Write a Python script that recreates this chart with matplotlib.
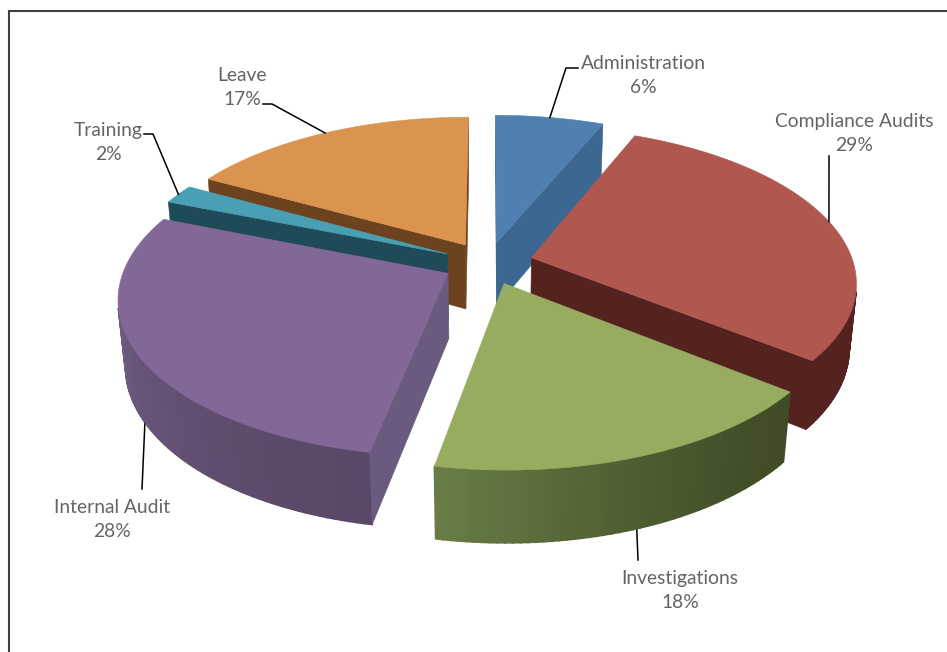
import numpy as np
import matplotlib
matplotlib.use('Agg')
import matplotlib.pyplot as plt
from matplotlib.colors import to_rgb

# time split per activity, percent, clockwise from 12 o'clock
labels = ['Administration', 'Compliance Audits', 'Investigations', 'Internal Audit', 'Training', 'Leave']
values = [6, 29, 18, 28, 2, 17]

top_colors = ['#4F80AF', '#B05850', '#98AC60', '#826897', '#4A9FB5', '#DB944F']
side_colors = ['#3C6791', '#55231F', '#47552B', '#6B5A80', '#1F4B58', '#6C431E']
# outer wall shade at the start and at the end of each arc
wall_start = ['#3C6791', '#55231F', '#3F4C25', '#5A4868', '#1F4B58', '#6C431E']
wall_end = ['#3C6791', '#55231F', '#687D46', '#806B98', '#1F4B58', '#6C431E']

# where each label goes: text centre, then the leader's start and optional elbow
text_pos = [(643, 75.5), (854, 133.5), (680, 590.5), (112, 519.5), (108, 142.5), (242, 87.5)]
leader_pts = [[(578, 68), (566, 68)], [(829, 156)], [(638, 560)], [(142, 489)],
              [(144, 134), (153, 134)], [(263, 104), (272, 104)]]

# projection of the disc onto the page
CX, CY = 488, 263
RX, RY = 322, 152
PERSP = 0.15
DEPTH = 66
BOTTOM_SHRINK = 0.02
EXPLODE = 0.14
# the right half of the disc leans towards the viewer a little
LEAN = np.radians(3)


def project(x, y, z=0.0):
    w = 1 + PERSP * y + BOTTOM_SHRINK * z
    return CX + RX * x / w, CY + (-RY * y + DEPTH * z) / w


def lean(a):
    return a + LEAN * np.maximum(np.sin(a), 0)


def area(pts):
    p = np.array(pts)
    q = np.roll(p, -1, axis=0)
    return np.sum(p[:, 0] * q[:, 1] - q[:, 0] * p[:, 1])


def face(ax, pts, color, lw=0.4):
    # faces turned away from the viewer are skipped
    if area(pts) < 0:
        ax.fill(*zip(*pts), color=color, lw=lw, ec=color, zorder=2)


fig = plt.figure(figsize=(9.47, 6.52), dpi=100)
ax = fig.add_axes([0, 0, 1, 1])
ax.set_xlim(0, 947)
ax.set_ylim(652, 0)
ax.axis('off')

ax.plot([9, 9, 947], [652, 11, 11], color='#404040', lw=1.5, solid_joinstyle='miter')

fracs = np.array(values) / sum(values)
edges = lean(np.concatenate([[0], np.cumsum(fracs)]) * 2 * np.pi)
mids = (edges[:-1] + edges[1:]) / 2

# back slices first so the nearer ones paint over them
for i in np.argsort(-np.cos(mids)):
    ox, oy = EXPLODE * np.sin(mids[i]), EXPLODE * np.cos(mids[i])
    angs = np.linspace(edges[i], edges[i + 1], max(int(values[i] * 3), 6))
    xs, ys = ox + np.sin(angs), oy + np.cos(angs)

    top = [project(ox, oy)] + [project(a, b) for a, b in zip(xs, ys)]
    bot = [project(ox, oy, 1)] + [project(a, b, 1) for a, b in zip(xs, ys)]

    # rounded wall as thin strips with the shade changing along the arc
    c0, c1 = np.array(to_rgb(wall_start[i])), np.array(to_rgb(wall_end[i]))
    for j in range(1, len(top) - 1):
        t = ((j - 1) / max(len(top) - 3, 1)) ** 1.5
        face(ax, [top[j], top[j + 1], bot[j + 1], bot[j]], tuple(c0 + (c1 - c0) * t), lw=1.2)

    # the two cut faces
    face(ax, [top[0], top[1], bot[1], bot[0]], side_colors[i])
    face(ax, [top[-1], top[0], bot[0], bot[-1]], side_colors[i])

    ax.fill(*zip(*top), color=top_colors[i], lw=0.4, ec=top_colors[i], zorder=2)

for i, name in enumerate(labels):
    ox, oy = EXPLODE * np.sin(mids[i]), EXPLODE * np.cos(mids[i])
    xa, ya = ox + np.sin(mids[i]), oy + np.cos(mids[i])
    # front slices take their leader from the lower rim
    anchor = project(xa, ya, 1 if ya < 0 else 0)
    pts = leader_pts[i] + [anchor]
    ax.plot(*zip(*pts), color='black', lw=1.1, zorder=1.5 if ya < 0 else 3)
    ax.text(text_pos[i][0], text_pos[i][1], f'{name}\n{values[i]}%', ha='center', va='center',
            fontsize=13.9, family='Lato', color='#646464', linespacing=1.55, zorder=4)

fig.savefig('out.png', dpi=100)
